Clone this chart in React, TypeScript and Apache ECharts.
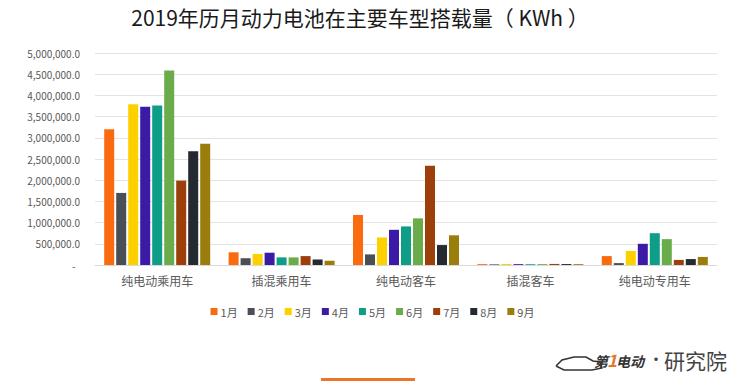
import React, { useEffect, useRef } from "react";
import * as echarts from "echarts";

const categories = ["纯电动乘用车", "插混乘用车", "纯电动客车", "插混客车", "纯电动专用车"];
const months = ["1月", "2月", "3月", "4月", "5月", "6月", "7月", "8月", "9月"];
const colors = ["#F96B0E", "#4A4F55", "#FFD000", "#3B1BA6", "#0E9D87", "#6AAB4A", "#9C3F0A", "#242A30", "#9A7D0A"];

// values per month, in category order
const m1 = [3200000, 300000, 1180000, 20000, 210000];
const m2 = [1700000, 160000, 250000, 15000, 45000];
const m3 = [3790000, 260000, 650000, 25000, 330000];
const m4 = [3730000, 290000, 830000, 20000, 500000];
const m5 = [3760000, 180000, 910000, 18000, 750000];
const m6 = [4590000, 180000, 1100000, 20000, 610000];
const m7 = [1990000, 210000, 2340000, 25000, 120000];
const m8 = [2680000, 130000, 470000, 22000, 140000];
const m9 = [2860000, 100000, 700000, 20000, 190000];
const monthValues = [m1, m2, m3, m4, m5, m6, m7, m8, m9];

const yMin = 0;
const yMax = 5000000;
const yInterval = 500000;

const title = "2019年历月动力电池在主要车型搭载量（ KWh ）";
const font = "'Noto Sans CJK SC', 'Noto Sans', sans-serif";

export default function App() {
  const ref = useRef<HTMLDivElement>(null);
  useEffect(() => {
    document.body.style.margin = "0";
    if (!ref.current) return;
    const chart = echarts.init(ref.current, null, { renderer: "svg" });
    chart.setOption({
      animation: false,
      backgroundColor: "#ffffff",
      textStyle: { fontFamily: font },
      title: {
        text: title,
        left: 355,
        textAlign: "center",
        top: 1,
        textStyle: { fontSize: 21, fontWeight: "normal", color: "#1a1a1a", fontFamily: font },
      },
      legend: {
        data: months,
        top: 301,
        left: "center",
        itemWidth: 7,
        itemHeight: 7,
        itemGap: 10,
        icon: "rect",
        textStyle: { fontSize: 11, color: "#595959", padding: [0, 0, 0, -2] },
      },
      grid: { left: 95, right: 28, top: 53, bottom: 116, containLabel: false },
      xAxis: {
        type: "category",
        data: categories,
        axisLine: { lineStyle: { color: "#d9d9d9" } },
        axisTick: { show: false },
        axisLabel: { fontSize: 12, color: "#595959", margin: 9 },
      },
      yAxis: {
        type: "value",
        min: yMin,
        max: yMax,
        interval: yInterval,
        axisLine: { show: false },
        axisTick: { show: false },
        splitLine: { lineStyle: { color: "#e3e3e3" } },
        axisLabel: {
          fontSize: 10,
          color: "#595959",
          margin: 15,
          formatter: (v: number) =>
            v === 0 ? "-  " : v.toLocaleString("en-US", { minimumFractionDigits: 1, maximumFractionDigits: 1 }),
        },
      },
      series: months.map((m, i) => ({
        name: m,
        type: "bar",
        data: monthValues[i],
        barWidth: 10,
        barGap: "20%",
        itemStyle: { color: colors[i] },
      })),
      graphic: [
        {
          type: "rect",
          left: 321,
          top: 378,
          shape: { width: 94, height: 3 },
          style: { fill: "#E8772A" },
        },
        {
          type: "polyline",
          shape: {
            points: [
              [556, 366], [562, 360], [574, 357], [586, 357], [593, 361], [600, 362], [602, 368], [592, 370], [564, 370], [556, 366],
            ],
          },
          style: { stroke: "#333", lineWidth: 1.5, fill: "none" },
        },
        {
          type: "text",
          left: 594,
          top: 354,
          style: { text: "第", fontSize: 14, fontWeight: "bold", fontStyle: "italic", fill: "#333", fontFamily: font },
        },
        {
          type: "text",
          left: 607,
          top: 351,
          style: { text: "1", fontSize: 17, fontWeight: "bold", fontStyle: "italic", fill: "#E8772A", fontFamily: font },
        },
        {
          type: "text",
          left: 616,
          top: 354,
          style: { text: "电动", fontSize: 14, fontWeight: "bold", fontStyle: "italic", fill: "#333", fontFamily: font },
        },
        {
          type: "text",
          left: 648,
          top: 350,
          style: { text: "•", fontSize: 16, fill: "#444", fontFamily: font },
        },
        {
          type: "text",
          left: 664,
          top: 349,
          style: { text: "研究院", fontSize: 21, fill: "#444", fontFamily: font },
        },
      ],
    });
    return () => chart.dispose();
  }, []);
  return <div ref={ref} style={{ width: 745, height: 381 }} />;
}
